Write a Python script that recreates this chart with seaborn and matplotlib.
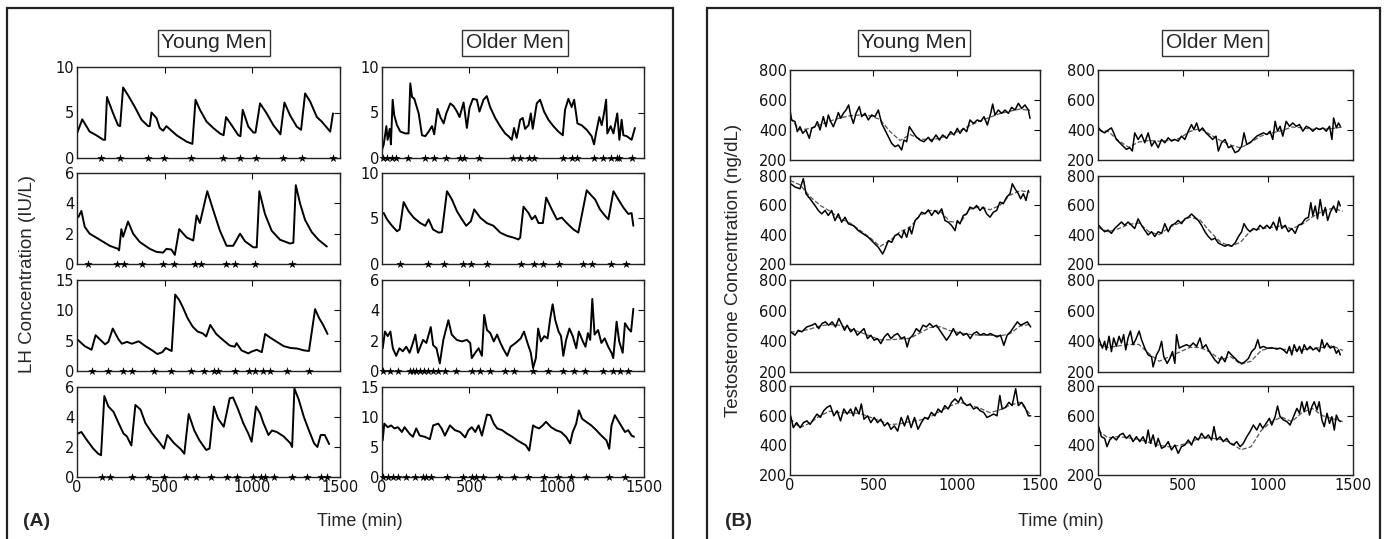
import numpy as np
import seaborn as sns
import matplotlib
matplotlib.use('Agg')
import matplotlib.pyplot as plt
from matplotlib.patches import Rectangle

# ---------------- LH, young men (IU/L) ----------------
lh_y1_t = [0, 30, 72, 110, 150, 160, 171, 206, 234, 246, 263, 291, 330, 368, 406, 415, 425, 453, 472, 491,
           510, 568, 625, 658, 676, 701, 739, 777, 815, 836, 850, 882, 920, 932, 945, 977, 1006, 1018, 1044, 1082,
           1120, 1149, 1160, 1183, 1215, 1253, 1278, 1301, 1330, 1368, 1396, 1444, 1460]
lh_y1_v = [2.7, 4.25, 2.9, 2.5, 2.0, 2.0, 6.7, 4.9, 3.6, 3.5, 7.75, 6.9, 5.6, 4.2, 3.5, 3.5, 5.0, 4.4, 3.3, 3.0,
           3.5, 2.5, 1.8, 1.55, 6.4, 5.3, 4.0, 3.3, 2.7, 2.5, 4.5, 3.6, 2.5, 2.4, 5.3, 3.45, 2.8, 2.8, 6.0, 4.9,
           3.6, 2.9, 2.6, 6.1, 4.7, 3.45, 3.1, 7.1, 6.2, 4.5, 4.0, 2.9, 4.9]
lh_y1_stars = [139, 248, 406, 495, 653, 830, 930, 1021, 1173, 1282, 1459]

lh_y2_t = [8, 25, 44, 72, 130, 187, 234, 240, 253, 263, 291, 320, 358, 415, 453, 491, 510, 539, 558, 583,
           625, 663, 682, 701, 743, 777, 815, 853, 891, 930, 958, 1006, 1025, 1040, 1072, 1110, 1158, 1215, 1234, 1248,
           1272, 1301, 1339, 1377, 1425]
lh_y2_v = [3.1, 3.5, 2.45, 2.0, 1.6, 1.2, 1.0, 0.9, 2.3, 1.8, 2.8, 2.0, 1.45, 1.0, 0.8, 0.75, 1.0, 0.95, 0.6, 2.3,
           1.75, 1.55, 3.2, 2.7, 4.8, 3.55, 2.2, 1.2, 1.2, 2.0, 1.5, 1.1, 1.1, 4.8, 3.3, 2.2, 1.6, 1.35, 1.4, 5.2,
           4.0, 2.9, 2.1, 1.6, 1.15]
lh_y2_stars = [63, 229, 267, 368, 491, 552, 672, 710, 850, 901, 1015, 1225]

lh_y3_t = [6, 44, 83, 106, 131, 160, 179, 204, 237, 256, 285, 313, 352, 390, 429, 458, 487, 506, 525, 540,
           560, 583, 602, 631, 660, 688, 717, 737, 760, 794, 833, 871, 900, 910, 938, 977, 996, 1025, 1054, 1073,
           1102, 1140, 1179, 1217, 1256, 1294, 1323, 1358, 1381, 1400, 1419, 1429]
lh_y3_v = [5.1, 4.1, 3.5, 5.9, 5.2, 4.4, 4.8, 7.0, 5.2, 4.5, 4.8, 4.5, 4.9, 4.1, 3.4, 2.8, 3.1, 3.8, 3.5, 3.3,
           12.6, 11.7, 10.6, 8.7, 7.3, 6.5, 6.2, 5.7, 7.6, 6.1, 5.1, 4.2, 4.0, 4.6, 3.4, 2.9, 3.2, 3.5, 3.1, 6.1,
           5.5, 4.8, 4.1, 3.8, 3.7, 3.4, 3.3, 10.2, 8.7, 7.8, 6.7, 6.1]
lh_y3_stars = [83, 179, 260, 313, 442, 538, 650, 727, 783, 806, 900, 983, 1015, 1063, 1102, 1198, 1323]

lh_y4_t = [6, 25, 54, 92, 121, 137, 156, 179, 208, 237, 265, 285, 310, 333, 362, 390, 429, 467, 496, 515,
           554, 592, 612, 637, 669, 698, 737, 756, 781, 804, 837, 871, 890, 919, 948, 977, 996, 1021, 1044, 1063,
           1092, 1112, 1140, 1179, 1217, 1227, 1240, 1265, 1294, 1323, 1352, 1371, 1390, 1413, 1438]
lh_y4_v = [2.9, 3.0, 2.5, 1.9, 1.55, 1.45, 5.4, 4.7, 4.35, 3.6, 2.9, 2.7, 2.1, 4.8, 4.5, 3.6, 2.9, 2.35, 1.9, 2.8,
           2.25, 1.85, 1.55, 4.2, 3.1, 2.45, 1.8, 1.9, 4.7, 3.9, 3.35, 5.25, 5.3, 4.5, 3.6, 2.9, 2.35, 4.7, 4.25, 3.6,
           2.8, 3.1, 3.0, 2.7, 2.25, 2.0, 5.9, 5.15, 4.0, 3.1, 2.25, 2.0, 2.8, 2.8, 2.2]
lh_y4_stars = [140, 188, 313, 406, 496, 621, 679, 765, 856, 913, 1002, 1048, 1073, 1125, 1227, 1313, 1390, 1425]

# ---------------- LH, older men (IU/L) ----------------
lh_o1_t = [0, 10, 25, 32, 44, 51, 61, 70, 86, 105, 133, 152, 162, 172, 185, 210, 229, 248, 267, 286,
           299, 318, 334, 353, 368, 391, 410, 429, 444, 467, 486, 501, 520, 543, 558, 581, 600, 619, 648, 676,
           705, 724, 743, 756, 771, 791, 806, 819, 839, 852, 863, 886, 905, 928, 953, 981, 1010, 1035, 1048, 1067,
           1086, 1100, 1119, 1143, 1172, 1200, 1214, 1225, 1244, 1258, 1271, 1283, 1290, 1309, 1325, 1347, 1359, 1372,
           1382, 1401, 1429, 1448]
lh_o1_v = [0.9, 1.5, 3.5, 2.0, 3.2, 1.5, 6.4, 4.7, 3.6, 2.9, 2.7, 2.7, 8.2, 6.7, 6.5, 4.9, 2.5, 2.4, 2.9, 3.5,
           2.6, 5.4, 4.5, 3.8, 4.9, 6.0, 5.7, 5.1, 4.5, 6.1, 3.3, 5.5, 6.5, 6.4, 5.1, 6.4, 6.8, 5.6, 4.4, 3.5,
           2.7, 2.4, 2.0, 3.3, 2.2, 4.2, 4.4, 3.2, 3.6, 4.9, 3.2, 6.0, 6.4, 5.1, 4.2, 3.5, 2.9, 2.5, 5.3, 6.5,
           5.6, 6.4, 3.8, 3.6, 3.1, 2.4, 1.5, 2.7, 4.5, 3.6, 4.9, 6.4, 2.7, 3.5, 2.7, 4.9, 2.0, 4.2,
           2.5, 2.4, 2.0, 3.3]
lh_o1_stars = [4, 29, 58, 82, 149, 248, 296, 368, 444, 471, 558, 749, 791, 842, 871, 1038, 1090, 1119,
               1214, 1264, 1309, 1344, 1359, 1433]

lh_o2_t = [10, 29, 57, 86, 101, 124, 152, 181, 219, 248, 267, 292, 324, 343, 372, 400, 429, 458, 482, 509,
           528, 562, 600, 638, 677, 715, 753, 781, 791, 810, 839, 858, 877, 896, 921, 940, 972, 1001, 1029, 1058,
           1096, 1124, 1172, 1200, 1220, 1248, 1277, 1296, 1325, 1353, 1382, 1410, 1429, 1439]
lh_o2_v = [5.6, 4.9, 4.2, 3.6, 3.8, 6.8, 5.8, 5.1, 4.5, 4.2, 4.9, 3.8, 3.45, 3.5, 8.0, 7.1, 5.8, 4.9, 4.2, 4.7,
           6.0, 5.1, 4.5, 4.2, 3.45, 3.1, 2.9, 2.7, 2.9, 6.3, 5.6, 4.9, 5.3, 4.5, 4.5, 7.3, 6.0, 4.9, 5.1, 4.5,
           3.8, 3.45, 8.1, 7.5, 7.1, 6.0, 5.3, 4.9, 8.0, 7.1, 6.2, 5.5, 5.6, 4.2]
lh_o2_stars = [105, 261, 353, 463, 509, 600, 795, 871, 924, 1016, 1149, 1204, 1309, 1397]

lh_o3_t = [4, 17, 33, 48, 62, 81, 100, 119, 139, 158, 177, 191, 206, 235, 254, 279, 293, 312, 331, 351,
           380, 399, 428, 457, 486, 505, 514, 534, 553, 572, 585, 601, 620, 640, 659, 678, 697, 717, 736, 765,
           794, 813, 833, 852, 865, 881, 894, 910, 929, 948, 963, 977, 992, 1011, 1025, 1038, 1054, 1073, 1092, 1112,
           1127, 1150, 1165, 1179, 1192, 1204, 1217, 1237, 1256, 1275, 1295, 1314, 1324, 1343, 1358, 1378, 1391, 1410,
           1426, 1439]
lh_o3_v = [1.5, 2.6, 2.3, 2.6, 1.5, 1.0, 1.5, 1.3, 1.6, 1.2, 1.85, 2.4, 1.2, 2.05, 1.85, 2.9, 1.7, 1.5, 0.5, 2.05,
           3.35, 2.4, 2.05, 1.95, 2.05, 1.85, 0.85, 1.2, 1.5, 1.0, 3.7, 2.7, 2.5, 1.95, 2.4, 1.85, 1.4, 1.0, 1.6, 1.85,
           2.15, 2.6, 1.85, 1.2, 0.2, 0.85, 2.8, 1.95, 2.3, 2.15, 3.45, 4.4, 3.35, 2.6, 2.3, 1.0, 2.05, 2.8, 2.3, 1.5,
           2.6, 1.95, 1.6, 2.5, 2.05, 4.75, 2.4, 2.7, 1.85, 2.15, 1.6, 1.2, 0.85, 3.25, 1.95, 1.2, 3.15, 2.8,
           2.6, 4.1]
lh_o3_stars = [4, 48, 91, 158, 177, 196, 216, 241, 264, 293, 322, 360, 422, 514, 563, 620, 707, 755, 865,
               948, 1035, 1102, 1160, 1266, 1320, 1362, 1410]

lh_o4_t = [4, 13, 33, 52, 71, 91, 114, 129, 158, 177, 196, 216, 245, 274, 293, 322, 341, 360, 389, 418,
           447, 476, 495, 514, 534, 553, 572, 601, 620, 640, 659, 688, 717, 746, 775, 804, 823, 843, 865, 881,
           900, 920, 939, 968, 996, 1025, 1054, 1077, 1092, 1112, 1127, 1146, 1169, 1198, 1227, 1256, 1285, 1301,
           1314, 1333, 1362, 1391, 1410, 1429, 1443]
lh_o4_v = [6.1, 8.9, 8.3, 8.6, 8.1, 8.3, 7.5, 8.3, 7.2, 6.7, 8.1, 6.9, 6.7, 6.3, 8.6, 8.9, 8.1, 6.9, 8.6, 7.8,
           7.5, 6.6, 7.8, 8.3, 7.5, 8.6, 6.9, 10.4, 10.3, 8.9, 8.1, 7.8, 7.2, 6.7, 6.1, 5.6, 5.3, 4.4, 8.6, 8.3,
           8.1, 8.6, 9.2, 8.3, 7.8, 7.5, 6.7, 5.6, 7.5, 8.9, 11.1, 9.7, 9.2, 8.6, 7.8, 6.9, 6.1, 4.7,
           8.6, 10.3, 8.9, 7.5, 7.8, 6.9, 6.7]
lh_o4_stars = [4, 33, 62, 91, 139, 187, 235, 254, 283, 370, 466, 514, 537, 576, 669, 755, 838, 929, 1006,
               1083, 1169, 1301, 1391]

# ---------------- testosterone (ng/dL) ----------------
fit_t = [0, 60, 120, 180, 240, 300, 360, 420, 480, 540, 600, 660, 720, 780, 840, 900, 960, 1020, 1080, 1140,
         1200, 1260, 1320, 1380, 1440]

te_y1_t = [0, 10, 30, 44, 60, 76, 96, 116, 130, 150, 164, 180, 200, 216, 230, 244, 260, 276, 290, 304,
           320, 336, 352, 364, 380, 396, 416, 430, 450, 470, 490, 510, 530, 550, 570, 590, 610, 630, 650, 670,
           684, 700, 716, 736, 756, 780, 804, 830, 850, 876, 896, 916, 940, 964, 984, 1004, 1020, 1040, 1060, 1080,
           1100, 1124, 1144, 1164, 1184, 1204, 1216, 1230, 1250, 1270, 1290, 1310, 1330, 1350, 1370, 1390, 1410,
           1430, 1440]
te_y1_v = [533, 467, 456, 389, 422, 378, 400, 344, 411, 422, 456, 400, 489, 422, 500, 456, 422, 467, 516, 478,
           511, 533, 567, 500, 444, 511, 556, 489, 511, 467, 500, 489, 533, 444, 400, 356, 311, 289, 300, 267,
           333, 322, 422, 389, 356, 333, 322, 351, 322, 367, 333, 367, 344, 389, 367, 411, 378, 411, 389, 467,
           444, 467, 456, 489, 433, 511, 573, 500, 533, 511, 533, 511, 551, 533, 578, 544, 567,
           533, 478]
te_y1_fit = [480, 400, 410, 435, 460, 480, 495, 500, 495, 470, 390, 330, 370, 340, 335, 345, 370, 395, 430, 460,
             485, 510, 525, 540, 530]

te_y2_t = [4, 30, 60, 80, 96, 120, 150, 170, 190, 210, 230, 250, 270, 290, 310, 330, 350, 380, 410, 440,
           470, 500, 530, 556, 570, 590, 610, 630, 650, 670, 684, 700, 716, 730, 750, 770, 790, 810, 830, 850,
           870, 890, 910, 930, 950, 970, 990, 1004, 1020, 1040, 1060, 1080, 1100, 1120, 1140, 1160, 1180, 1200, 1220,
           1240, 1260, 1280, 1300, 1320, 1334, 1350, 1370, 1384, 1400, 1416, 1430]
te_y2_v = [747, 725, 713, 782, 679, 645, 599, 565, 542, 565, 531, 565, 496, 542, 485, 519, 474, 462, 428, 405,
           382, 348, 314, 268, 302, 359, 348, 394, 405, 378, 428, 382, 451, 405, 496, 519, 553, 542, 569, 531,
           565, 542, 576, 496, 485, 462, 428, 496, 474, 531, 542, 588, 576, 599, 565, 588, 542, 519, 553,
           565, 622, 611, 656, 679, 747, 713, 679, 645, 679, 633, 702]
te_y2_fit = [770, 740, 660, 600, 560, 510, 480, 430, 380, 320, 360, 420, 450, 530, 565, 560, 490, 480, 575, 590,
             570, 600, 670, 700, 690]

te_y3_t = [4, 30, 50, 71, 101, 131, 152, 172, 192, 212, 232, 253, 273, 293, 313, 327, 343, 364, 384, 404,
           424, 444, 465, 485, 505, 525, 545, 566, 586, 606, 626, 646, 667, 687, 703, 717, 737, 758, 778, 798,
           818, 838, 859, 879, 899, 919, 939, 960, 980, 1000, 1020, 1040, 1061, 1081, 1101, 1121, 1141, 1162, 1182,
           1202, 1222, 1242, 1263, 1283, 1303, 1323, 1343, 1364, 1384, 1404, 1424, 1444]
te_y3_v = [462, 440, 472, 462, 494, 505, 516, 483, 516, 527, 505, 527, 494, 549, 505, 472, 505, 462, 483, 440,
           462, 483, 418, 440, 407, 418, 385, 429, 451, 418, 440, 451, 418, 429, 363, 418, 440, 483, 462, 505,
           494, 516, 494, 505, 472, 440, 407, 440, 483, 440, 462, 440, 451, 418, 451, 462, 440, 451, 440,
           451, 440, 429, 440, 374, 440, 462, 494, 527, 505, 516, 527, 494]
te_y3_fit = [460, 465, 480, 500, 510, 505, 480, 460, 435, 410, 410, 415, 420, 455, 490, 495, 470, 455, 445, 440,
             440, 435, 450, 500, 510]

te_y4_t = [4, 20, 40, 61, 81, 101, 121, 141, 162, 182, 202, 222, 242, 263, 283, 303, 323, 343, 364, 380,
           394, 414, 428, 444, 465, 485, 505, 525, 545, 566, 586, 606, 626, 646, 667, 687, 707, 727, 747, 768,
           788, 808, 828, 848, 869, 889, 909, 929, 949, 970, 990, 1010, 1026, 1040, 1061, 1081, 1101, 1121, 1141,
           1162, 1182, 1202, 1222, 1242, 1259, 1273, 1293, 1313, 1333, 1354, 1370, 1390, 1410, 1430, 1444]
te_y4_v = [599, 519, 553, 519, 553, 565, 542, 576, 611, 588, 633, 656, 668, 599, 633, 565, 645, 611, 645, 599,
           656, 611, 679, 576, 599, 553, 588, 553, 576, 531, 553, 508, 531, 496, 588, 531, 599, 519, 588, 508,
           553, 588, 576, 622, 599, 645, 622, 668, 645, 690, 713, 690, 725, 690, 668, 679, 645, 656, 633,
           622, 588, 599, 611, 599, 736, 645, 656, 690, 668, 782, 668, 690, 656, 599, 599]
te_y4_fit = [580, 520, 550, 600, 630, 620, 620, 615, 590, 565, 540, 545, 560, 570, 590, 630, 665, 690, 670, 650,
             620, 640, 670, 690, 610]

te_o1_t = [4, 20, 39, 59, 79, 92, 108, 128, 147, 167, 187, 202, 216, 236, 256, 275, 295, 315, 334, 354,
           374, 393, 413, 432, 452, 472, 491, 511, 531, 550, 564, 580, 596, 615, 635, 655, 674, 694, 708, 727,
           747, 767, 786, 806, 826, 845, 859, 875, 894, 914, 934, 953, 973, 993, 1012, 1028, 1042, 1056, 1071, 1087,
           1107, 1126, 1146, 1166, 1185, 1205, 1225, 1244, 1264, 1284, 1303, 1323, 1343, 1362, 1376, 1386, 1402,
           1415, 1425]
te_o1_v = [414, 392, 381, 399, 414, 381, 337, 315, 293, 271, 282, 260, 381, 337, 370, 315, 381, 293, 326, 282,
           337, 315, 348, 326, 337, 326, 359, 337, 392, 436, 403, 447, 392, 414, 381, 359, 337, 359, 260, 315,
           337, 282, 293, 249, 260, 293, 381, 304, 315, 337, 359, 370, 381, 370, 392, 337, 458, 392, 425, 359,
           458, 425, 447, 425, 436, 392, 425, 414, 392, 414, 403, 414, 392, 425, 337, 480, 414,
           447, 425]
te_o1_fit = [400, 390, 330, 285, 320, 330, 325, 330, 345, 390, 410, 370, 330, 300, 280, 320, 360, 380, 395, 420,
             415, 405, 405, 410, 420]

te_o2_t = [4, 20, 39, 59, 79, 98, 118, 138, 157, 177, 197, 216, 236, 256, 275, 295, 315, 334, 354, 374,
           393, 413, 432, 452, 472, 491, 511, 531, 550, 570, 590, 609, 629, 649, 668, 688, 708, 727, 747, 767,
           786, 806, 826, 845, 859, 875, 894, 914, 934, 953, 973, 993, 1012, 1032, 1052, 1067, 1081, 1101, 1120, 1140,
           1160, 1179, 1199, 1219, 1238, 1252, 1264, 1278, 1291, 1307, 1323, 1337, 1351, 1366, 1386, 1402, 1415, 1425]
te_o2_v = [464, 442, 420, 431, 409, 442, 464, 486, 464, 486, 464, 442, 508, 464, 431, 398, 420, 387, 420, 409,
           475, 420, 464, 475, 497, 475, 508, 519, 541, 519, 497, 464, 420, 387, 365, 376, 343, 332, 321, 332,
           321, 343, 387, 420, 475, 442, 420, 442, 431, 464, 442, 464, 442, 486, 431, 519, 442, 464, 420, 442,
           409, 464, 475, 508, 519, 618, 530, 596, 508, 640, 530, 585, 497, 552, 596, 552, 629, 596]
te_o2_fit = [450, 420, 440, 470, 480, 420, 400, 450, 480, 520, 500, 420, 350, 320, 350, 430, 440, 450, 460, 440,
             470, 520, 560, 580, 560]

te_o3_t = [4, 14, 26, 39, 49, 65, 79, 92, 108, 124, 138, 151, 163, 177, 191, 206, 222, 242, 256, 275,
           295, 315, 324, 344, 360, 374, 387, 407, 423, 438, 452, 462, 478, 497, 521, 541, 560, 580, 600, 615,
           635, 649, 668, 688, 708, 727, 747, 767, 786, 806, 826, 845, 865, 885, 904, 924, 940, 953, 973, 993,
           1012, 1032, 1052, 1071, 1091, 1111, 1126, 1140, 1154, 1170, 1185, 1199, 1213, 1229, 1248, 1264, 1284, 1303,
           1317, 1331, 1347, 1366, 1386, 1402, 1415, 1425]
te_o3_v = [422, 389, 356, 400, 344, 433, 333, 422, 367, 433, 389, 444, 344, 422, 467, 378, 411, 467, 411, 356,
           311, 300, 233, 311, 344, 400, 300, 256, 289, 333, 256, 444, 356, 367, 378, 367, 389, 367, 422, 356,
           378, 344, 311, 278, 256, 300, 267, 333, 311, 289, 267, 256, 267, 289, 333, 356, 411, 356, 367, 356,
           356, 356, 349, 356, 344, 322, 367, 311, 378, 333, 367, 322, 378, 344, 367, 344, 356, 333,
           411, 356, 389, 356, 367, 322, 344, 311]
te_o3_fit = [380, 360, 370, 380, 380, 320, 270, 300, 330, 360, 360, 330, 280, 300, 250, 270, 340, 360, 350, 340,
             345, 355, 360, 370, 340]

te_o4_t = [4, 20, 39, 53, 69, 88, 108, 128, 147, 167, 187, 206, 226, 246, 265, 281, 295, 309, 324, 340,
           354, 374, 393, 413, 432, 452, 472, 491, 511, 531, 550, 570, 590, 609, 629, 649, 668, 682, 698, 718,
           737, 757, 777, 796, 816, 836, 855, 875, 894, 914, 934, 953, 969, 989, 1008, 1022, 1042, 1056, 1071, 1091,
           1111, 1130, 1150, 1170, 1185, 1199, 1213, 1229, 1244, 1258, 1272, 1288, 1301, 1317, 1331, 1347, 1362, 1376,
           1390, 1402, 1415, 1425]
te_o4_v = [526, 458, 447, 391, 436, 458, 436, 470, 481, 447, 470, 425, 458, 425, 458, 413, 503, 413, 470, 391,
           447, 380, 391, 425, 369, 402, 346, 391, 402, 436, 402, 458, 436, 481, 447, 470, 436, 526, 436, 458,
           425, 447, 413, 402, 425, 391, 413, 458, 492, 537, 503, 548, 515, 548, 582, 537, 593, 665, 593, 571,
           560, 537, 593, 649, 616, 694, 627, 694, 604, 661, 694, 638, 694, 571, 526, 616, 548, 593,
           503, 604, 571, 560]
te_o4_fit = [500, 450, 460, 450, 440, 420, 400, 390, 400, 420, 450, 450, 440, 420, 370, 390, 500, 560, 590, 560,
             620, 650, 600, 580, 560]

lh_young = [(lh_y1_t, lh_y1_v, lh_y1_stars, 10, [0, 5, 10]),
            (lh_y2_t, lh_y2_v, lh_y2_stars, 6, [0, 2, 4, 6]),
            (lh_y3_t, lh_y3_v, lh_y3_stars, 15, [0, 5, 10, 15]),
            (lh_y4_t, lh_y4_v, lh_y4_stars, 6, [0, 2, 4, 6])]
lh_older = [(lh_o1_t, lh_o1_v, lh_o1_stars, 10, [0, 5, 10]),
            (lh_o2_t, lh_o2_v, lh_o2_stars, 10, [0, 5, 10]),
            (lh_o3_t, lh_o3_v, lh_o3_stars, 6, [0, 2, 4, 6]),
            (lh_o4_t, lh_o4_v, lh_o4_stars, 15, [0, 5, 10, 15])]
te_young = [(te_y1_t, te_y1_v, te_y1_fit), (te_y2_t, te_y2_v, te_y2_fit),
            (te_y3_t, te_y3_v, te_y3_fit), (te_y4_t, te_y4_v, te_y4_fit)]
te_older = [(te_o1_t, te_o1_v, te_o1_fit), (te_o2_t, te_o2_v, te_o2_fit),
            (te_o3_t, te_o3_v, te_o3_fit), (te_o4_t, te_o4_v, te_o4_fit)]

sns.set_theme(style='white')
plt.rcParams['font.family'] = ['Liberation Sans', 'DejaVu Sans']

W, H = 1388, 539
fig = plt.figure(figsize=(W / 100, H / 100), dpi=100)
fig.patch.set_facecolor('white')


def px_axes(x0, y0, x1, y1):
    return fig.add_axes([x0 / W, 1 - y1 / H, (x1 - x0) / W, (y1 - y0) / H])


def style_axes(ax, ylim, yticks, bottom):
    ax.set_xlim(0, 1500)
    ax.set_ylim(*ylim)
    ax.set_xticks([0, 500, 1000, 1500])
    ax.set_yticks(yticks)
    ax.tick_params(direction='in', top=True, right=True, length=4, width=0.8,
                   labelsize=10.5, pad=2, colors='#111')
    for lab in ax.get_xticklabels() + ax.get_yticklabels():
        lab.set_family('DejaVu Sans')
    if not bottom:
        ax.set_xticklabels([])
    for s in ax.spines.values():
        s.set_linewidth(1.0)
        s.set_color('#222')
    ax.set_xlabel('')
    ax.set_ylabel('')


rows_a = [(67, 158), (173, 264), (280, 371), (387, 477)]
rows_b = [(70, 160), (176, 264), (280, 372), (386, 475)]

# panel A: LH
for (x0, x1), series in [((77, 340), lh_young), ((382, 644), lh_older)]:
    for i, (t, v, stars, top, ticks) in enumerate(series):
        ax = px_axes(x0, rows_a[i][0], x1, rows_a[i][1])
        sns.lineplot(x=t, y=v, ax=ax, color='black', linewidth=1.4,
                     estimator=None, sort=False, legend=False)
        sns.scatterplot(x=stars, y=np.zeros(len(stars)), ax=ax, marker='*', s=40,
                        color='black', linewidth=0, clip_on=False, legend=False, zorder=5)
        style_axes(ax, (0, top), ticks, i == 3)

# panel B: testosterone
for (x0, x1), series in [((790, 1040), te_young), ((1098, 1353), te_older)]:
    for i, (t, v, fit) in enumerate(series):
        ax = px_axes(x0, rows_b[i][0], x1, rows_b[i][1])
        sns.lineplot(x=fit_t, y=fit, ax=ax, color='#555', linewidth=0.9, linestyle='--',
                     estimator=None, sort=False, legend=False)
        sns.lineplot(x=t, y=v, ax=ax, color='black', linewidth=1.1,
                     estimator=None, sort=False, legend=False)
        style_axes(ax, (200, 800), [200, 400, 600, 800], i == 3)

# column headers
box = dict(boxstyle='square,pad=0.18', fc='white', ec='#333', lw=1.0)
for x, label in [(214, 'Young Men'), (515, 'Older Men'), (914, 'Young Men'), (1215, 'Older Men')]:
    fig.text(x / W, 1 - 43 / H, label, ha='center', va='center', fontsize=15, bbox=box)

# axis titles
fig.text(28 / W, 1 - 274 / H, 'LH Concentration (IU/L)', rotation=90, ha='center', va='center', fontsize=13.5)
fig.text(734 / W, 1 - 270 / H, 'Testosterone Concentration (ng/dL)', rotation=90,
         ha='center', va='center', fontsize=13.5)
fig.text(360 / W, 1 - 522 / H, 'Time (min)', ha='center', va='center', fontsize=13)
fig.text(1061 / W, 1 - 522 / H, 'Time (min)', ha='center', va='center', fontsize=13)
fig.text(37 / W, 1 - 521 / H, '(A)', ha='center', va='center', fontsize=14, fontweight='bold')
fig.text(739 / W, 1 - 521 / H, '(B)', ha='center', va='center', fontsize=14, fontweight='bold')

# outer panel frames
for x0, x1 in [(7, 673), (707, 1380)]:
    fig.patches.append(Rectangle((x0 / W, -0.02), (x1 - x0) / W, 1.02 - 8 / H,
                                 transform=fig.transFigure, fill=False, ec='#222', lw=1.6))

fig.savefig('out.png', dpi=100, facecolor='white')
